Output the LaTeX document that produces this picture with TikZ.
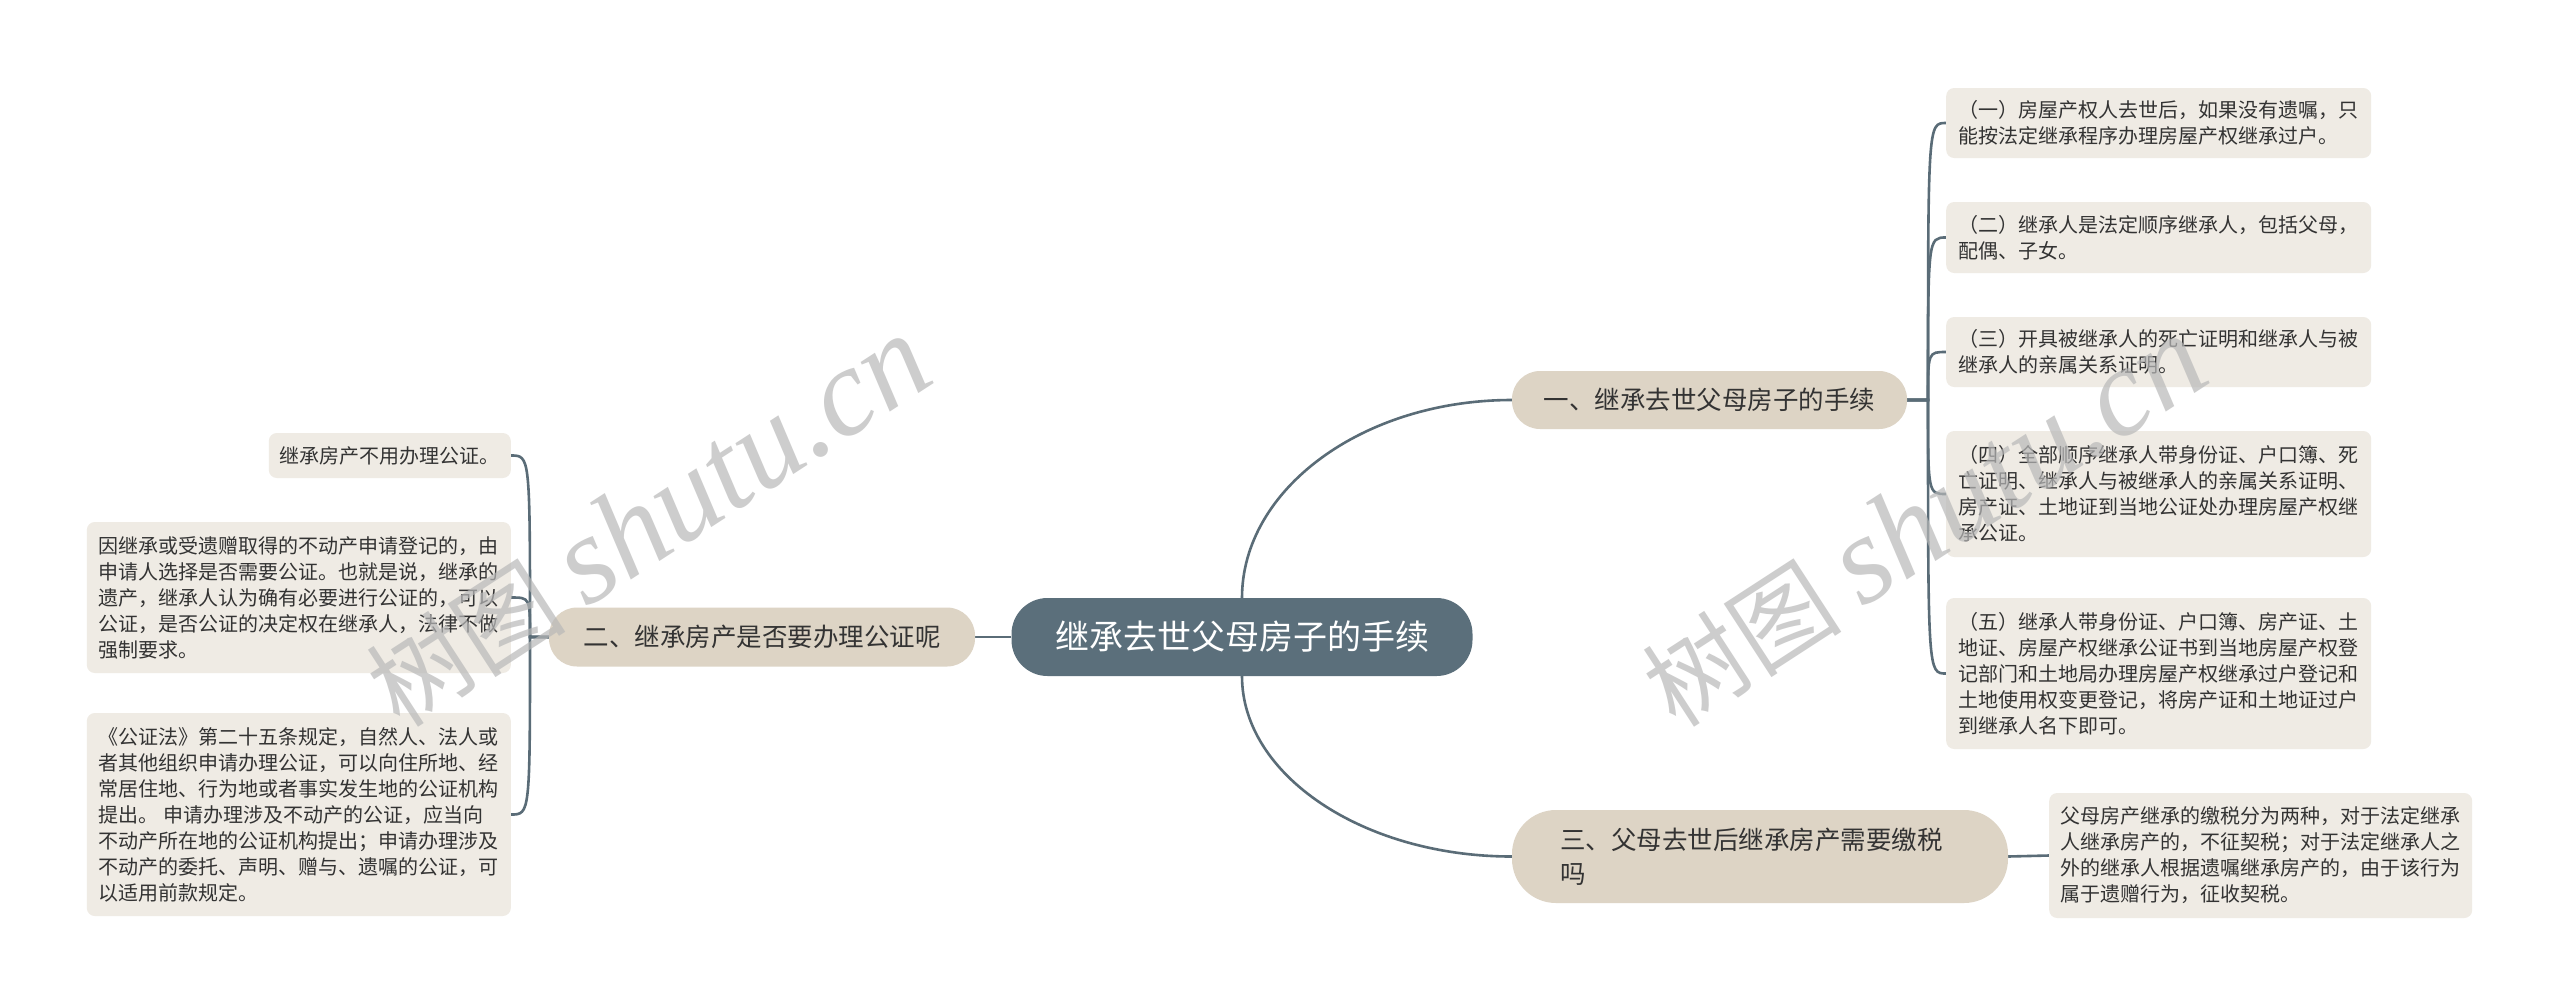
\documentclass[tikz,border=0pt]{standalone}
\usepackage{fontspec}
\setmainfont{Noto Sans CJK SC}
\newfontfamily\wmlatin{Liberation Serif}
\usetikzlibrary{backgrounds}
\definecolor{centralc}{HTML}{5B6F7B}
\definecolor{branchc}{HTML}{DDD4C5}
\definecolor{leafc}{HTML}{EFEBE4}
\definecolor{linec}{HTML}{5A6C77}
\definecolor{textc}{HTML}{333333}
\definecolor{wmc}{HTML}{B8B8B8}
\begin{document}
\begin{tikzpicture}[x=1pt,y=-1pt,
  centralnode/.style={fill=centralc, text=white, rounded corners=36pt, minimum width=461pt, minimum height=78pt, font=\fontsize{34}{40}\selectfont, inner sep=0pt},
  branchnode/.style={fill=branchc, text=textc, font=\fontsize{25.5}{34}\selectfont, inner sep=0pt},
  leafnode/.style={fill=leafc, text=textc, rounded corners=8pt, font=\fontsize{20}{26}\selectfont, align=left, inner xsep=11pt, inner ysep=0pt},
  conn/.style={draw=linec, line width=2.6pt},
  wm/.style={text=wmc, opacity=0.7, rotate=33, inner sep=0pt}
]
\useasboundingbox (0,0) rectangle (2560,1005);

% central and branches
\node[centralnode] (c) at (1242,637) {继承去世父母房子的手续};
\node[branchnode, rounded corners=28pt, minimum width=395pt, minimum height=58pt] (b1) at (1709.5,400) {一、继承去世父母房子的手续};
\node[branchnode, rounded corners=28pt, minimum width=426pt, minimum height=59pt] (b2) at (762,637) {二、继承房产是否要办理公证呢};
\node[branchnode, rounded corners=44pt, minimum width=496pt, minimum height=93pt, align=left, text width=400pt] (b3) at (1760,856.5) {三、父母去世后继承房产需要缴税\\吗};

% right leaves
\node[leafnode, anchor=west, minimum width=425pt, minimum height=70pt] (r1) at (1946,123) {（一）房屋产权人去世后，如果没有遗嘱，只\\能按法定继承程序办理房屋产权继承过户。};
\node[leafnode, anchor=west, minimum width=425pt, minimum height=71pt] (r2) at (1946,237.5) {（二）继承人是法定顺序继承人，包括父母，\\配偶、子女。};
\node[leafnode, anchor=west, minimum width=425pt, minimum height=70pt] (r3) at (1946,352) {（三）开具被继承人的死亡证明和继承人与被\\继承人的亲属关系证明。};
\node[leafnode, anchor=west, minimum width=425pt, minimum height=126pt] (r4) at (1946,494) {（四）全部顺序继承人带身份证、户口簿、死\\亡证明、继承人与被继承人的亲属关系证明、\\房产证、土地证到当地公证处办理房屋产权继\\承公证。};
\node[leafnode, anchor=west, minimum width=425pt, minimum height=151pt] (r5) at (1946,673.5) {（五）继承人带身份证、户口簿、房产证、土\\地证、房屋产权继承公证书到当地房屋产权登\\记部门和土地局办理房屋产权继承过户登记和\\土地使用权变更登记，将房产证和土地证过户\\到继承人名下即可。};
\node[leafnode, anchor=west, minimum width=423pt, minimum height=125pt] (tax) at (2049,855.5) {父母房产继承的缴税分为两种，对于法定继承\\人继承房产的，不征契税；对于法定继承人之\\外的继承人根据遗嘱继承房产的，由于该行为\\属于遗赠行为，征收契税。};

% left leaves
\node[leafnode, anchor=east, minimum height=45pt] (l1) at (511,455.5) {继承房产不用办理公证。};
\node[leafnode, anchor=east, minimum width=424pt, minimum height=151pt] (l2) at (511,597.5) {因继承或受遗赠取得的不动产申请登记的，由\\申请人选择是否需要公证。也就是说，继承的\\遗产，继承人认为确有必要进行公证的，可以\\公证，是否公证的决定权在继承人，法律不做\\强制要求。};
\node[leafnode, anchor=east, minimum width=424pt, minimum height=203pt] (l3) at (511,814.5) {《公证法》第二十五条规定，自然人、法人或\\者其他组织申请办理公证，可以向住所地、经\\常居住地、行为地或者事实发生地的公证机构\\提出。 申请办理涉及不动产的公证，应当向\\不动产所在地的公证机构提出；申请办理涉及\\不动产的委托、声明、赠与、遗嘱的公证，可\\以适用前款规定。};

% connectors
\begin{scope}[on background layer]
\fill[white] (0,0) rectangle (2560,1005);
\draw[conn] (c.north) .. controls (1242,489) and (1363,400) .. (b1.west);
\draw[conn] (c.south) .. controls (1242,775) and (1363,856.5) .. (b3.west);
\draw[conn] (c.west) -- (b2.east);
\draw[conn] (b3.east) -- (tax.west);
\coordinate (rs) at (1928,400);
\foreach \n in {r1,r2,r3,r4,r5}
  \draw[conn] (b1.east) -- (rs) .. controls (rs |- \n.west) .. (\n.west);
\coordinate (ls) at (530,637);
\foreach \n in {l1,l2,l3}
  \draw[conn] (b2.west) -- (ls) .. controls (ls |- \n.east) .. (\n.east);
\end{scope}

% watermarks
\node[wm] (w1) at (648,522) {{\fontsize{100}{100}\selectfont 树图}\hspace{22pt}{\wmlatin\itshape\fontsize{125}{125}\selectfont shutu.cn}};
\node[wm] (w2) at (1924,522) {{\fontsize{100}{100}\selectfont 树图}\hspace{22pt}{\wmlatin\itshape\fontsize{125}{125}\selectfont shutu.cn}};
\end{tikzpicture}
\end{document}
